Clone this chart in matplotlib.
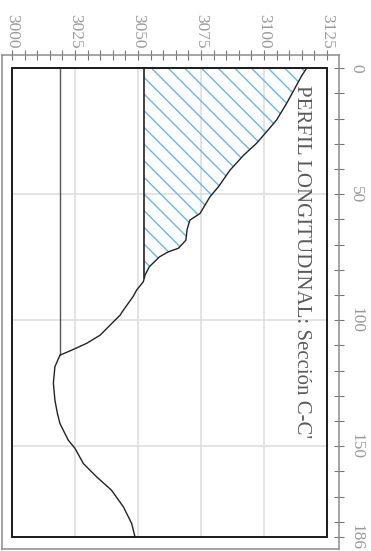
import matplotlib
matplotlib.use("Agg")
import matplotlib.pyplot as plt
import numpy as np
from matplotlib.patches import Rectangle
from matplotlib.ticker import FixedLocator

# Longitudinal profile: distance along the section (m) and ground elevation (m)
distance = [0, 3, 6.7, 14, 20.6, 25.3, 29.9, 34.5, 40.5, 47, 51, 57.7, 60.3, 64,
            68.3, 71.5, 72.9, 74.9, 78.8, 82.1, 84.8, 88, 90.7, 96, 98, 100.7,
            106, 109.2, 111.9, 113.9, 118.5, 125, 131.7, 137, 141, 147.6, 150.9,
            156.9, 162.2, 167.5, 174.1, 180.7, 186]
terrain = [3117, 3115, 3113, 3109, 3105, 3101, 3097, 3092, 3086.5, 3082, 3078.6,
           3074.6, 3070.6, 3069.5, 3069, 3066, 3062, 3058.5, 3054.5, 3052.8,
           3052.1, 3049.5, 3048, 3044.2, 3042.9, 3040.2, 3034.9, 3029.6, 3023.7,
           3019, 3017, 3016.4, 3017, 3018, 3019, 3022.3, 3025, 3028.3, 3033.6,
           3039.5, 3044.2, 3047.5, 3048.8]

cut_level = 3052.5     # excavation level
base_level = 3019.0    # lower reference level

elev_ticks = [3000, 3025, 3050, 3075, 3100, 3125]
dist_ticks = [0, 50, 100, 150, 186]
title = "PERFIL LONGITUDINAL: Sección C-C'"

plt.rcParams["font.family"] = ["Liberation Serif", "DejaVu Serif"]
plt.rcParams["hatch.linewidth"] = 1.0

dist = np.array(distance, dtype=float)
elev = np.array(terrain, dtype=float)


def first_crossing(level):
    """Distance where the ground first drops below a given level."""
    below = np.nonzero(elev <= level)[0][0]
    d0, d1 = dist[below - 1], dist[below]
    e0, e1 = elev[below - 1], elev[below]
    return d0 + (e0 - level) / (e0 - e1) * (d1 - d0)


fig = plt.figure(figsize=(3.71, 5.51), dpi=100)
ax = fig.add_axes([2 / 371, 2 / 551, 337 / 371, 494 / 551])
ax.set_xlim(2996.0, 3129.8)
ax.set_ylim(190.8, -5.2)

e_min, e_max = elev_ticks[0], elev_ticks[-1]
d_min, d_max = dist_ticks[0], dist_ticks[-1]

# grid inside the drawing frame
ax.vlines(elev_ticks[1:-1], d_min, d_max, color="#dedede", lw=1.2, zorder=1)
ax.hlines(dist_ticks[1:-1], e_min, e_max, color="#dedede", lw=1.2, zorder=1)

# hatched cut area between ground and excavation level
ax.fill_betweenx(dist, cut_level, elev, where=elev >= cut_level,
                 interpolate=True, facecolor="none", edgecolor="#6ab6e8",
                 hatch="\\\\", linewidth=0, zorder=2)

# reference levels
d_cut = first_crossing(cut_level)
d_base = first_crossing(base_level)
ax.plot([cut_level, cut_level], [d_min, d_cut], color="#111111", lw=1.1, zorder=3)
ax.plot([base_level, base_level], [d_min, d_base], color="#555555", lw=1.0, zorder=3)

# ground line
ax.plot(elev, dist, color="#222222", lw=1.0, zorder=4)

# drawing frame
ax.add_patch(Rectangle((e_min, d_min), e_max - e_min, d_max - d_min,
                       fill=False, ec="#1a1a1a", lw=1.4, zorder=5))

ax.text(3115, 6.7, title, rotation=-90, ha="center", va="top",
        fontsize=15.0, color="#5a5a5a", zorder=6)

# axes on top and right, labels turned with the sheet
ax.xaxis.tick_top()
ax.yaxis.tick_right()
ax.set_xticks(elev_ticks)
ax.set_yticks(dist_ticks)
ax.xaxis.set_minor_locator(FixedLocator(np.arange(e_min, e_max + 1, 5)))
ax.yaxis.set_minor_locator(FixedLocator(np.arange(d_min, d_max, 10)))
ax.set_xticklabels([str(v) for v in elev_ticks], rotation=-90)
ax.set_yticklabels([str(v) for v in dist_ticks], rotation=-90, va="center")
ax.tick_params(which="both", direction="inout", length=7, width=0.8,
               color="#777777", labelsize=12.5, labelcolor="#9a9a9a")
ax.tick_params(axis="x", pad=1)
ax.tick_params(axis="y", pad=3)
for s in ax.spines.values():
    s.set_color("#8c8c8c")
    s.set_linewidth(1.1)

fig.savefig("out.png", dpi=100)
